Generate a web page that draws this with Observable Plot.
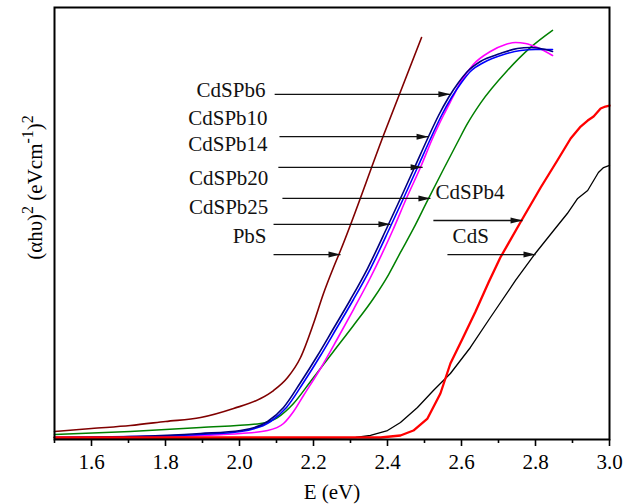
<!DOCTYPE html>
<html>
<head>
<meta charset="utf-8">
<script src="https://cdn.jsdelivr.net/npm/d3@7"></script>
<script src="https://cdn.jsdelivr.net/npm/@observablehq/plot@0.6"></script>
<style>
  html, body { margin: 0; padding: 0; background: #fff; }
  #chart { width: 625px; height: 504px; }
</style>
</head>
<body>
<div id="chart"></div>
<script>
// ---- data (photon energy E in eV, (αhυ)^2 in arbitrary units 0–100) ----
const pbsE = [1.500, 1.600, 1.705, 1.800, 1.895, 1.984, 2.057, 2.092, 2.130, 2.165, 2.200, 2.227, 2.254, 2.273, 2.389, 2.492];
const pbsV = [1.85, 2.55, 3.24, 4.17, 5.09, 7.18, 9.49, 11.34, 14.35, 18.98, 26.85, 33.80, 39.81, 43.75, 70.37, 93.06];

const greenE = [1.500, 1.705, 1.895, 2.057, 2.103, 2.146, 2.192, 2.254, 2.308, 2.362, 2.403, 2.435, 2.470, 2.508, 2.551, 2.589, 2.616, 2.651, 2.724, 2.786, 2.846];
const greenV = [1.16, 1.85, 2.78, 3.70, 5.09, 8.33, 13.43, 20.37, 26.39, 32.64, 38.19, 43.3, 48.8, 55.3, 62.5, 68.75, 73.1, 77.8, 85.4, 90.7, 94.7];

const navyE = [1.500, 1.705, 1.895, 2.003, 2.076, 2.119, 2.165, 2.211, 2.254, 2.300, 2.346, 2.400, 2.435, 2.473, 2.511, 2.538, 2.565, 2.592, 2.616, 2.651, 2.705, 2.751, 2.786, 2.827, 2.846];
const navyV = [0.46, 0.69, 1.39, 2.08, 4.17, 7.41, 13.19, 19.44, 25.69, 32.41, 39.58, 49.31, 55.79, 62.96, 70.14, 75.00, 79.17, 82.64, 85.19, 87.50, 89.35, 90.51, 90.74, 90.28, 89.81];

const blueE = [1.500, 1.705, 1.895, 2.003, 2.084, 2.127, 2.173, 2.219, 2.262, 2.308, 2.354, 2.408, 2.443, 2.481, 2.519, 2.546, 2.573, 2.600, 2.624, 2.660, 2.714, 2.760, 2.800, 2.846];
const blueV = [0.46, 0.69, 1.16, 1.85, 4.17, 7.41, 13.19, 19.44, 25.69, 32.41, 39.58, 49.31, 55.79, 62.96, 70.14, 75.00, 79.17, 82.64, 85.19, 87.27, 89.12, 90.05, 90.28, 90.28];

const magentaE = [1.500, 1.705, 1.895, 2.003, 2.076, 2.119, 2.146, 2.173, 2.219, 2.262, 2.308, 2.354, 2.414, 2.451, 2.489, 2.524, 2.551, 2.576, 2.597, 2.632, 2.678, 2.719, 2.746, 2.773, 2.805, 2.846];
const magentaV = [0.46, 0.46, 0.93, 1.39, 2.08, 3.70, 6.48, 10.19, 16.44, 22.92, 30.09, 37.50, 48.38, 55.79, 62.96, 70.14, 75.00, 79.17, 82.64, 86.81, 89.81, 91.44, 91.90, 91.67, 90.74, 88.89];

const redE = [1.500, 1.895, 2.381, 2.435, 2.470, 2.508, 2.543, 2.570, 2.603, 2.638, 2.673, 2.705, 2.759, 2.814, 2.859, 2.895, 2.922, 2.941, 2.957, 2.976, 2.989, 3.000];
const redV = [0.46, 0.46, 0.46, 0.93, 2.08, 4.86, 10.65, 17.59, 23.38, 29.63, 36.34, 42.13, 50.23, 58.33, 64.58, 69.68, 72.45, 73.84, 74.77, 76.62, 77.08, 77.31];

const blackE = [1.500, 1.895, 2.165, 2.314, 2.354, 2.400, 2.435, 2.481, 2.524, 2.570, 2.624, 2.678, 2.746, 2.795, 2.849, 2.886, 2.914, 2.941, 2.970, 2.984, 3.000];
const blackV = [0.23, 0.23, 0.23, 0.46, 0.93, 2.08, 3.94, 7.41, 11.34, 15.28, 21.30, 28.24, 36.81, 42.59, 48.38, 52.31, 55.79, 57.64, 61.81, 62.96, 63.43];

// tick values
const xTicks = [1.6, 1.8, 2.0, 2.2, 2.4, 2.6, 2.8, 3.0];
const xMinorTicks = [1.5, 1.7, 1.9, 2.1, 2.3, 2.5, 2.7, 2.9];

// annotations
const leftLabels = ["CdSPb6", "CdSPb10", "CdSPb14", "CdSPb20", "CdSPb25", "PbS"];
const leftLabelE = [2.070, 2.076, 2.076, 2.078, 2.078, 2.073];
const leftLabelV = [79.2, 72.9, 66.7, 58.8, 52.3, 45.6];
const rightLabels = ["CdSPb4", "CdS"];
const rightLabelE = [2.530, 2.576];
const rightLabelV = [55.6, 45.6];

const arrowE1 = [2.095, 2.108, 2.105, 2.116, 2.092, 2.092, 2.524, 2.562];
const arrowE2 = [2.570, 2.511, 2.495, 2.516, 2.408, 2.273, 2.765, 2.800];
const arrowV  = [79.9, 70.1, 63.0, 55.8, 49.8, 42.8, 50.7, 42.8];

// ---- build tables ----
const rows = (E, V) => E.map((e, i) => ({E: e, v: V[i]}));
const leftLab = leftLabels.map((t, i) => ({t, E: leftLabelE[i], v: leftLabelV[i]}));
const rightLab = rightLabels.map((t, i) => ({t, E: rightLabelE[i], v: rightLabelV[i]}));
const arrows = arrowV.map((v, i) => ({E1: arrowE1[i], E2: arrowE2[i], v}));

const headRight = {
  draw(ctx) {
    ctx.moveTo(0, 0);
    ctx.lineTo(-12, -3);
    ctx.lineTo(-12, 3);
    ctx.closePath();
  }
};

const yLabelPlaceholder = "__YLABEL__";
const fontSerif = "'Liberation Serif', 'Times New Roman', Times, serif";

const chart = Plot.plot({
  width: 625,
  height: 504,
  marginLeft: 54,
  marginRight: 16,
  marginTop: 7,
  marginBottom: 65,
  style: {fontFamily: fontSerif, fontSize: "21px", color: "#000", background: "#fff"},
  x: {domain: [1.5, 3.0], label: null},
  y: {domain: [0, 100], axis: null, label: null},
  marks: [
    Plot.line(rows(blackE, blackV), {x: "E", y: "v", stroke: "#000000", strokeWidth: 1.3}),
    Plot.line(rows(greenE, greenV), {x: "E", y: "v", stroke: "#008000", strokeWidth: 1.5, curve: "monotone-x"}),
    Plot.line(rows(magentaE, magentaV), {x: "E", y: "v", stroke: "#ff00ff", strokeWidth: 1.6, curve: "monotone-x"}),
    Plot.line(rows(blueE, blueV), {x: "E", y: "v", stroke: "#0000ff", strokeWidth: 1.6, curve: "monotone-x"}),
    Plot.line(rows(navyE, navyV), {x: "E", y: "v", stroke: "#000080", strokeWidth: 1.6, curve: "monotone-x"}),
    Plot.line(rows(pbsE, pbsV), {x: "E", y: "v", stroke: "#800000", strokeWidth: 1.6, curve: "monotone-x"}),
    Plot.line(rows(redE, redV), {x: "E", y: "v", stroke: "#ff0000", strokeWidth: 2.3}),
    Plot.link(arrows, {x1: "E1", x2: "E2", y1: "v", y2: "v", stroke: "#111", strokeWidth: 1.3}),
    Plot.dot(arrows, {x: "E2", y: "v", symbol: headRight, fill: "#111", stroke: null}),
    Plot.text(leftLab, {x: "E", y: "v", text: "t", textAnchor: "end", lineAnchor: "bottom", fill: "#111"}),
    Plot.text(rightLab, {x: "E", y: "v", text: "t", textAnchor: "start", lineAnchor: "bottom", fill: "#111"}),
    Plot.frame({stroke: "#000", strokeWidth: 2}),
    Plot.axisX(xTicks, {tickSize: 7, tickPadding: 8, strokeWidth: 1.6, label: null, tickFormat: d => d.toFixed(1)}),
    Plot.axisX(xMinorTicks, {tickSize: 4, strokeWidth: 1.6, label: null, tickFormat: () => ""}),
    Plot.text(["E (eV)"], {frameAnchor: "bottom", dy: 59, lineAnchor: "bottom", text: d => d}),
    Plot.text([yLabelPlaceholder], {frameAnchor: "left", dx: -13, dy: -36, rotate: -90, lineAnchor: "bottom", textAnchor: "middle", text: d => d})
  ]
});

// superscripts for the y-axis label
const NS = "http://www.w3.org/2000/svg";
chart.querySelectorAll("text").forEach(el => {
  if (el.textContent === yLabelPlaceholder) {
    el.textContent = "";
    const parts = [
      ["(αhυ)", false], ["2", true], [" (eVcm", false], ["-1", true], [")", false], ["2", true]
    ];
    let raised = false;
    for (const [s, sup] of parts) {
      const t = document.createElementNS(NS, "tspan");
      t.textContent = s;
      if (sup && !raised) { t.setAttribute("dy", "-9"); t.setAttribute("font-size", "16px"); raised = true; }
      else if (sup) { t.setAttribute("font-size", "16px"); }
      else if (!sup && raised) { t.setAttribute("dy", "9"); raised = false; }
      el.appendChild(t);
    }
  }
});

document.getElementById("chart").appendChild(chart);
</script>
</body>
</html>
